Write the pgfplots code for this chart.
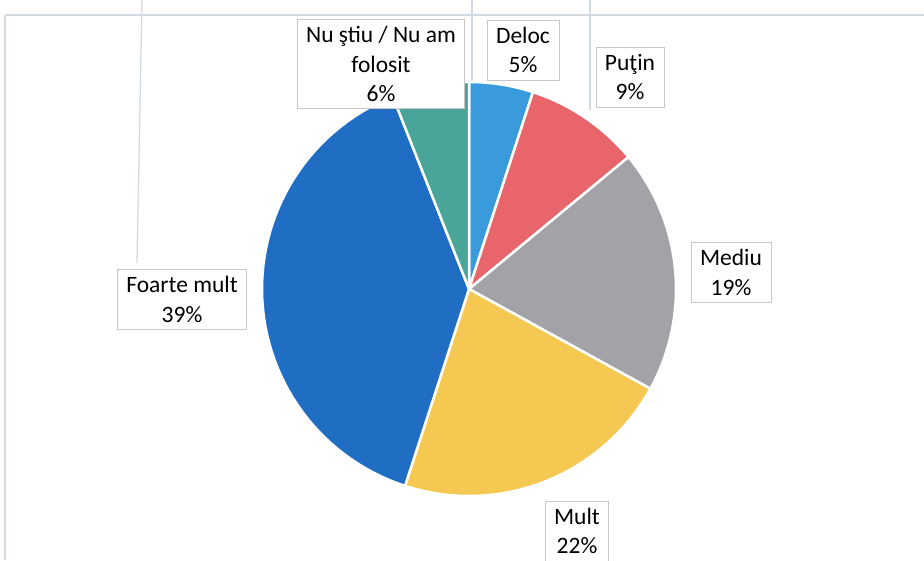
\documentclass[border=0pt]{standalone}
\usepackage{fontspec}
\setmainfont{Carlito}
\usepackage{pgfplots}
\pgfplotsset{compat=1.18}
\definecolor{cDeloc}{HTML}{3A9BDC}
\definecolor{cPutin}{HTML}{E8666B}
\definecolor{cMediu}{HTML}{A2A2A7}
\definecolor{cMult}{HTML}{F5C851}
\definecolor{cFoarte}{HTML}{1F6EC4}
\definecolor{cNustiu}{HTML}{48A597}
\definecolor{scan}{HTML}{D3DAE2}
\tikzset{lbl/.style={draw=black!22, line width=0.8pt, fill=white, align=center,
    font=\fontsize{23.5}{29.5}\selectfont, inner xsep=9pt, inner ysep=7pt}}
% Shares (%), clockwise from 12 o'clock:
% Deloc 5, Putin 9, Mediu 19, Mult 22, Foarte mult 39, Nu stiu 6
% slice angles = 90 - 3.6*cumulative share
\def\cx{469}\def\cy{271}\def\R{207}
\newcommand\slice[3]{%
  \addplot[fill=#3, draw=white, line width=2.5pt, line join=round,
    domain=#1:#2, samples=60, variable=\t]
    ({\cx+\R*cos(\t)},{\cy+\R*sin(\t)}) -- (axis cs:\cx,\cy) -- cycle;}
\begin{document}
\begin{tikzpicture}
\begin{axis}[
  scale only axis, width=924pt, height=560pt,
  xmin=0, xmax=924, ymin=0, ymax=560,
  hide axis, clip=false,
]
% faint scan lines of the surrounding table
\draw[scan, line width=1.3pt] (axis cs:5,545) -- (axis cs:924,545);
\draw[scan, line width=1.3pt] (axis cs:5,545) -- (axis cs:5,0);
\draw[scan, line width=1.3pt] (axis cs:142,560) -- (axis cs:137,297);
\draw[scan, line width=1.3pt] (axis cs:472,560) -- (axis cs:472,478);
\draw[scan, line width=1.3pt] (axis cs:590,560) -- (axis cs:590,450);
% slices: Deloc 5, Putin 9, Mediu 19, Mult 22, Foarte mult 39, Nu stiu 6
\slice{72}{90}{cDeloc}
\slice{39.6}{72}{cPutin}
\slice{-28.8}{39.6}{cMediu}
\slice{-108}{-28.8}{cMult}
\slice{-248.4}{-108}{cFoarte}
\slice{-270}{-248.4}{cNustiu}
% data labels
\node[lbl] at (axis cs:381,496) {Nu ştiu / Nu am\\folosit\\6\%};
\node[lbl] at (axis cs:523,510) {Deloc\\5\%};
\node[lbl] at (axis cs:630,483) {Puţin\\9\%};
\node[lbl] at (axis cs:731,287.5) {Mediu\\19\%};
\node[lbl] at (axis cs:182,260.5) {Foarte mult\\39\%};
\node[lbl] at (axis cs:577,29) {Mult\\22\%};
\end{axis}
\pgfresetboundingbox
\useasboundingbox (0,0) rectangle (924pt,560pt);
\end{tikzpicture}
\end{document}
